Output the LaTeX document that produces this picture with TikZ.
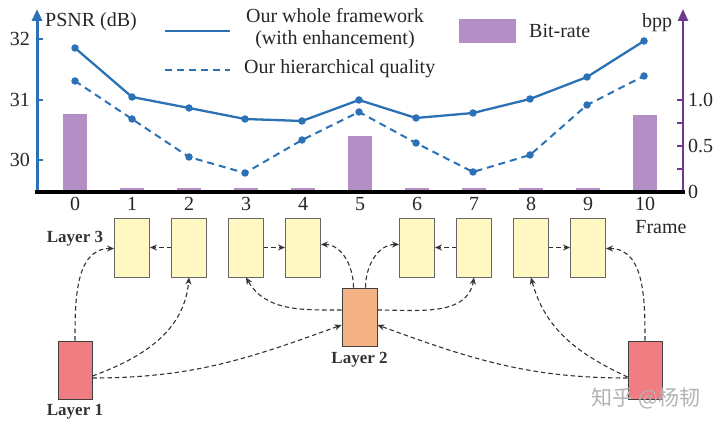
\documentclass[tikz,border=0pt]{standalone}
\usepackage{fontspec}
\setmainfont{Liberation Serif}
\newfontfamily\cjkfont{Noto Sans CJK SC}
\usetikzlibrary{arrows.meta}
\definecolor{lineblue}{HTML}{2A72B5}
\definecolor{barpurple}{HTML}{B48FC5}
\definecolor{axpurple}{HTML}{6B3A8E}
\definecolor{boxyellow}{HTML}{FFF8C2}
\definecolor{boxorange}{HTML}{F4B183}
\definecolor{boxred}{HTML}{F07D82}
\definecolor{arrowgray}{HTML}{333333}
\tikzset{
  lbl/.style={font=\fontsize{20}{22}\selectfont, text=black!85, inner sep=0pt},
  laylbl/.style={font=\bfseries\fontsize{17}{19}\selectfont, text=black!80, inner sep=0pt},
  framebox/.style={draw=black!60, line width=0.9pt, fill=boxyellow, minimum width=35pt, minimum height=59pt, inner sep=0pt},
  l2box/.style={draw=black!75, line width=0.9pt, fill=boxorange, minimum width=35pt, minimum height=58pt, inner sep=0pt},
  l1box/.style={draw=black!75, line width=0.9pt, fill=boxred, minimum width=34pt, minimum height=58pt, inner sep=0pt},
  dep/.style={draw=arrowgray, dash pattern=on 4.5pt off 3pt, line width=1.1pt, -{Stealth[length=7pt,width=6pt]}},
  bar/.style={fill=barpurple, draw=none},
  solidline/.style={lineblue, line width=2.3pt},
  dashline/.style={lineblue, line width=2pt, dash pattern=on 7pt off 5pt},
  dot/.style={circle, fill=lineblue, inner sep=0pt, minimum size=7.5pt},
}
\begin{document}
\begin{tikzpicture}[x=1pt,y=-1pt]
\useasboundingbox (0,0) rectangle (720,427);
% bars (bpp: 0 at y=192, 1.0 at y=100)
\foreach \i/\t in {0/114,1/188,2/188,3/188,4/188,5/136,6/188,7/188,8/188,9/188,10/115}{
  \fill[bar] ({75+57*\i-12},192) rectangle ({75+57*\i+12},\t);
}
% axes
\coordinate (lb) at (37,192);
\coordinate (lt) at (37,9);
\coordinate (rb) at (683,192);
\coordinate (rt) at (683,9);
\draw[lineblue, line width=3pt, -{Triangle[length=12pt,width=10pt]}] (lb) -- (lt);
\draw[axpurple, line width=2.5pt, -{Triangle[length=12pt,width=10pt]}] (rb) -- (rt);
\draw[black, line width=3.4pt] (35,192) -- (685,192);
% left ticks
\foreach \y/\v in {39/32,100/31,160/30}{
  \draw[lineblue, line width=1.6pt] (37,\y) -- (43,\y);
  \node[lbl, anchor=east] (lt\v) at (30,\y) {\v};
}
% right ticks
\foreach \y in {100,123,146,169}{
  \draw[axpurple, line width=1.6pt] (683,\y) -- (677,\y);
}
\node[lbl, anchor=west] (r10) at (688,100) {1.0};
\node[lbl, anchor=west] (r05) at (688,146) {0.5};
\node[lbl, anchor=west] (r00) at (688,192) {0};
% x labels
\foreach \i in {0,...,10}{
  \node[lbl] (x\i) at ({75+57*\i},204) {\i};
}
\node[lbl] (framelbl) at (661,227) {Frame};
\node[lbl, anchor=west] (psnr) at (45,22) {PSNR (dB)};
\node[lbl] (bpp) at (657,23) {bpp};
% data
\draw[solidline] (75,48) -- (132,97) -- (189,108) -- (245,119) -- (302,121) -- (359,100) -- (416,118) -- (473,113) -- (530,99) -- (587,77) -- (644,41);
\draw[dashline] (75,81) -- (132,119) -- (189,157) -- (245,173) -- (302,140) -- (359,112) -- (416,143) -- (473,172) -- (530,155) -- (587,105) -- (644,76);
\foreach \x/\y in {75/48,132/97,189/108,245/119,302/121,359/100,416/118,473/113,530/99,587/77,644/41,
                   75/81,132/119,189/157,245/173,302/140,359/112,416/143,473/172,530/155,587/105,644/76}{
  \node[dot] at (\x,\y) {};
}
% legend
\draw[solidline] (165,31) -- (230,31);
\draw[dashline] (165,70) -- (230,70);
\node[lbl, align=center] (leg1) at (335,29) {Our whole framework\\(with enhancement)};
\node[lbl, anchor=west] (leg2) at (244,69) {Our hierarchical quality};
\fill[bar] (459,19) rectangle (516,43);
\node[lbl, anchor=west] (leg3) at (529,31) {Bit-rate};
% frame boxes
\foreach \i in {1,2,3,4,6,7,8,9}{
  \node[framebox] (f\i) at ({75+57*\i},247.5) {};
}
\node[l2box] (f5) at (359.5,317) {};
\node[l1box] (f0) at (75,370) {};
\node[l1box] (f10) at (645,370) {};
\node[laylbl] (lay3) at (75,239) {Layer 3};
\node[laylbl] (lay2) at (359.5,360) {Layer 2};
\node[laylbl] (lay1) at (75,412) {Layer 1};
% dependencies
\draw[dep] ([xshift=0pt]f0.north) to[out=90,in=180] ([yshift=-1pt]f1.west);
\draw[dep] ([yshift=-6pt]f0.east) to[out=20,in=-95] (f2.south);
\draw[dep] ([yshift=-8pt]f0.east) to[out=0,in=200] ([yshift=-8pt]f5.west);
\draw[dep] (f2.west) -- (f1.east);
\draw[dep] (f3.east) -- (f4.west);
\draw[dep] ([yshift=7pt]f5.west) to[out=180,in=-60] (f3.south);
\draw[dep] ([xshift=-6pt]f5.north) to[out=90,in=0] ([yshift=3pt]f4.east);
\draw[dep] ([xshift=6pt]f5.north) to[out=90,in=180] ([yshift=3pt]f6.west);
\draw[dep] ([yshift=7pt]f5.east) to[out=0,in=-100] (f7.south);
\draw[dep] (f7.west) -- (f6.east);
\draw[dep] (f8.east) -- (f9.west);
\draw[dep] ([yshift=-8pt]f10.west) to[out=180,in=-20] ([yshift=-8pt]f5.east);
\draw[dep] ([yshift=-7pt]f10.west) to[out=155,in=-75] (f8.south);
\draw[dep] ([xshift=0pt]f10.north) to[out=90,in=0] ([yshift=-1pt]f9.east);
% watermark
\node[font=\cjkfont\fontsize{21}{23}\selectfont, text=black!30, inner sep=0pt] (wm) at (646,398) {知乎 @杨韧};
\end{tikzpicture}
\end{document}
